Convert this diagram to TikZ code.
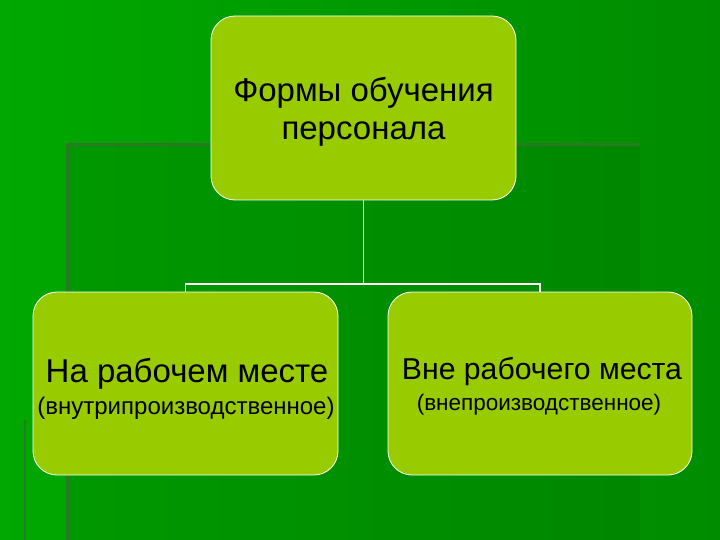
\documentclass[tikz,border=0pt]{standalone}
\usepackage{fontspec}
\setmainfont{Liberation Sans}
\definecolor{bgA}{HTML}{008C00}
\definecolor{bgB}{HTML}{00A800}
\definecolor{frameln}{HTML}{2A7A22}
\definecolor{boxfill}{HTML}{99CC00}
\begin{document}
\begin{tikzpicture}[x=1pt,y=-1pt,
  boxstyle/.style={draw=white,line width=0.8pt,fill=boxfill,rounded corners=24pt,align=center,inner sep=0pt},
  conn/.style={draw=white,line width=1.5pt}]
\useasboundingbox (0,0) rectangle (720,540);
\shade[left color=bgB,right color=bgA] (0,0) rectangle (720,540);
\fill[green!40!black,opacity=0.2] (67,145) rectangle (640,540);
\draw[frameln,line width=3pt] (67,540) -- (67,145) -- (640,145);
\draw[frameln,line width=2pt] (25,420) -- (25,540);
\node[boxstyle,minimum width=305pt,minimum height=184pt] (top) at (363.5,108) {};
\node[font=\fontsize{33}{38}\selectfont,align=center] (toptxt) at (363.5,112) {Формы обучения\\персонала};
\node[boxstyle,minimum width=305pt,minimum height=183pt] (left) at (185.5,383.5) {};
\node[boxstyle,minimum width=304pt,minimum height=183pt] (right) at (540,383.5) {};
\node[font=\fontsize{33}{38}\selectfont] (l1) at (187,374) {На рабочем месте};
\node[font=\fontsize{24}{28}\selectfont] (l2) at (186,408) {(внутрипроизводственное)};
\node[font=\fontsize{30.2}{36}\selectfont] (r1) at (542,372) {Вне рабочего места};
\node[font=\fontsize{22.5}{27}\selectfont] (r2) at (539,405) {(внепроизводственное)};
\coordinate (mid) at (363.5,284);
\draw[conn] (top.south) -- (mid);
\draw[conn] (left.north) -- (185.5,284) -- (540,284) -- (right.north);
\end{tikzpicture}
\end{document}
